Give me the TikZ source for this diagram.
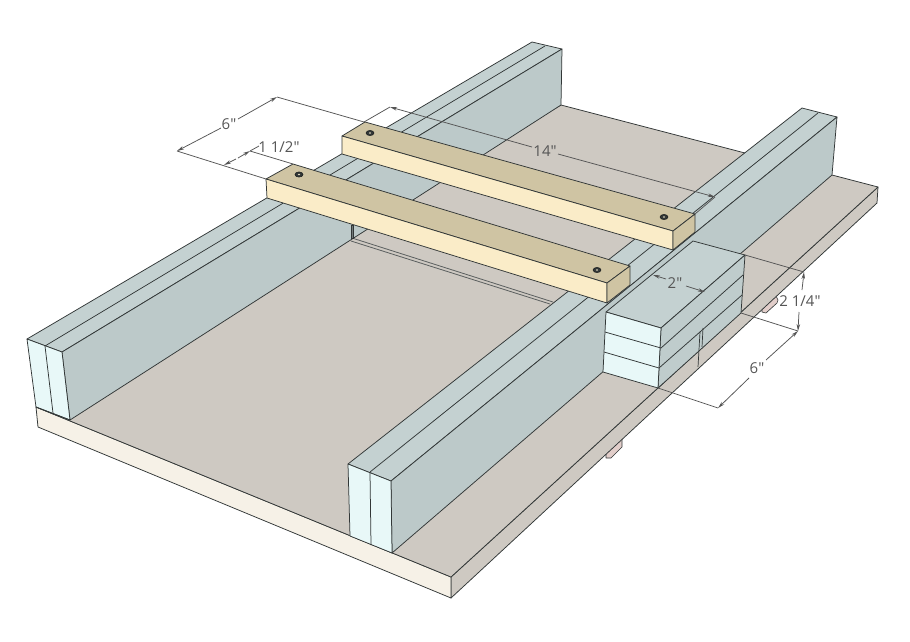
\documentclass[tikz,border=0pt]{standalone}
\usepackage{fontspec}
\newfontfamily\dimfont{Open Sans}
\usetikzlibrary{arrows.meta}
\definecolor{floorc}{RGB}{206,201,194}
\definecolor{basefront}{RGB}{246,241,231}
\definecolor{fencetop}{RGB}{196,209,209}
\definecolor{fenceside}{RGB}{188,201,201}
\definecolor{endface}{RGB}{232,248,248}
\definecolor{woodtop}{RGB}{207,196,163}
\definecolor{woodfront}{RGB}{250,236,200}
\definecolor{edgec}{RGB}{50,55,55}
\definecolor{dimc}{RGB}{85,85,85}
\definecolor{tabc}{RGB}{226,206,202}
\tikzset{
  edge/.style={draw=edgec,line width=0.75pt,line join=round},
  softedge/.style={draw=edgec!80!white,line width=0.7pt,line join=round},
  dimline/.style={draw=dimc,line width=0.75pt},
  dimtip/.style={dimline,-{Stealth[length=7pt,width=3.5pt]}},
  dimlabel/.style={text=dimc,font=\dimfont\fontsize{15}{17}\selectfont,inner sep=0pt},
  screwhole/.style={fill=edgec,draw=edgec!50!black,line width=0.5pt}
}
\begin{document}
\begin{tikzpicture}[x=1pt,y=-1pt]
\useasboundingbox (0,0) rectangle (910,641);
\fill[white] (0,0) rectangle (910,641);
% ---- pink tabs under the base
\path[edge,fill=tabc,line width=0.6pt] (762,308) -- (776,296) -- (778,300) -- (777,303) -- (766,313) -- (762,312) -- cycle;
\path[edge,fill=tabc,line width=0.6pt] (606,451) -- (622,438) -- (622,447) -- (611,458) -- (606,458) -- cycle;
% ---- base
\path[edge,fill=floorc] (451,577) -- (878,187) -- (877,203) -- (451,598) -- cycle;
\path[edge,fill=basefront] (36,407) -- (451,577) -- (451,598) -- (38,427) -- cycle;
\path[edge,fill=floorc] (36,407) -- (561,105) -- (745,153) -- (832,175) -- (878,187) -- (451,577) -- cycle;
% ---- left fence
\path[edge,fill=fencetop] (27,339) -- (532,42) -- (562,49) -- (62,352) -- cycle;
\path[edge,fill=fenceside] (62,352) -- (562,49) -- (561,105) -- (70,420) -- cycle;
\path[edge,fill=endface] (27,339) -- (62,352) -- (70,420) -- (36,407) -- cycle;
\draw[edge] (45,346) -- (545,46);
\draw[edge] (45,346) -- (53,413);
\draw[edge] (36,407) -- (70,420);
% ---- slot in the floor
\draw[softedge,line width=0.8pt] (352,238) -- (553,302);
\draw[softedge,line width=0.8pt] (351,241) -- (550,304);
\path[fill=fenceside!60!black,draw=edgec,line width=0.4pt] (351,225) -- (353,225) -- (353,238) -- (351,238) -- cycle;
% ---- right fence
\path[edge,fill=fencetop] (348,464) -- (802,108) -- (837,117) -- (391,481) -- cycle;
\path[edge,fill=fenceside] (391,481) -- (837,117) -- (832,175) -- (392,553) -- cycle;
\path[edge,fill=endface] (348,464) -- (391,481) -- (392,553) -- (350,536) -- cycle;
\draw[edge] (370,472) -- (818,113);
\draw[edge] (370,472) -- (371,545);
% ---- stacked blocks
\path[edge,fill=fencetop] (606,312) -- (693,241) -- (745,255) -- (661,328) -- cycle;
\path[edge,fill=fenceside!60!fencetop] (661,328) -- (745,255) -- (741,313) -- (658,388) -- cycle;
\path[edge,fill=endface] (606,312) -- (661,328) -- (658,388) -- (603,372) -- cycle;
\draw[edge] (605,332) -- (661,348) -- (743,275);
\draw[edge] (604,352) -- (659,368) -- (742,295);
% slot trace on the blocks
\draw[edge,line width=0.7pt] (703,328) -- (702,347);
\draw[edge,line width=0.7pt] (700,332) -- (698,367);
% ---- wooden bars
\path[edge,fill=woodtop] (342,136) -- (365,122) -- (695,214) -- (673,231) -- cycle;
\path[edge,fill=woodfront] (342,136) -- (673,231) -- (673,250) -- (342,154) -- cycle;
\path[edge,fill=woodtop] (673,231) -- (695,214) -- (695,232) -- (673,250) -- cycle;
\path[edge,fill=woodtop] (266,179) -- (293,164) -- (630,266) -- (607,283) -- cycle;
\path[edge,fill=woodfront] (266,179) -- (607,283) -- (607,303) -- (267,198) -- cycle;
\path[edge,fill=woodtop] (607,283) -- (630,266) -- (630,285) -- (607,303) -- cycle;
% screw holes
\foreach \hx/\hy in {370/133,664/217,299/174.5,597/270}{
  \path[screwhole] (\hx,\hy) ellipse [x radius=4pt,y radius=2.6pt];
  \fill[woodtop!70!white] (\hx,\hy) ellipse [x radius=1.2pt,y radius=0.8pt];
}
% ---- dimension anchors
\coordinate (sixA) at (177,151);
\coordinate (sixB) at (277,97);
\coordinate (barOneL) at (266,179);
\coordinate (barTwoB) at (364,122);
\coordinate (halfA) at (224,165);
\coordinate (halfB) at (250,151);
\coordinate (barOneB) at (293,164);
\coordinate (longA) at (390,107);
\coordinate (longB) at (715,197);
\coordinate (barTwoR) at (695,214);
\coordinate (wideA) at (653,275);
\coordinate (wideB) at (705,292);
\coordinate (blkTop) at (745,255);
\coordinate (htA) at (804,272);
\coordinate (blkBot) at (741,313);
\coordinate (htB) at (798,331);
\coordinate (depA) at (798,331);
\coordinate (depB) at (718,408);
\coordinate (blkFoot) at (658,388);
% extension lines
\draw[dimline] (sixA) -- (barOneL);
\draw[dimline] (sixB) -- (barTwoB);
\draw[dimline] (halfB) -- (barOneB);
\draw[dimline] (longA) -- (barTwoB);
\draw[dimline] (longB) -- (barTwoR);
\draw[dimline] (blkTop) -- (htA);
\draw[dimline] (blkBot) -- (htB);
\draw[dimline] (blkFoot) -- (depB);
% labels
\node[dimlabel] (lblSix) at (229,124) {6"};
\node[dimlabel] (lblHalf) at (279,147) {1 1/2"};
\node[dimlabel] (lblLong) at (545,151) {14"};
\node[dimlabel] (lblWide) at (675,283) {2"};
\node[dimlabel] (lblHt) at (800,301) {2 1/4"};
\node[dimlabel] (lblDep) at (757,368) {6"};
% dimension lines
\draw[dimtip] (221,128) -- (sixA);
\draw[dimtip] (238,119) -- (sixB);
\draw[dimtip] (236,159) -- (halfA);
\draw[dimtip] (238,158) -- (halfB);
\draw[dimline] (250,151) -- (259,146);
\draw[dimtip] (532,147) -- (longA);
\draw[dimtip] (558,154) -- (longB);
\draw[dimtip] (666,279) -- (wideA);
\draw[dimtip] (686,286) -- (wideB);
\draw[dimtip] (802,290) -- (htA);
\draw[dimtip] (799,312) -- (htB);
\draw[dimtip] (766,360) -- (depA);
\draw[dimtip] (749,378) -- (depB);
\end{tikzpicture}
\end{document}
